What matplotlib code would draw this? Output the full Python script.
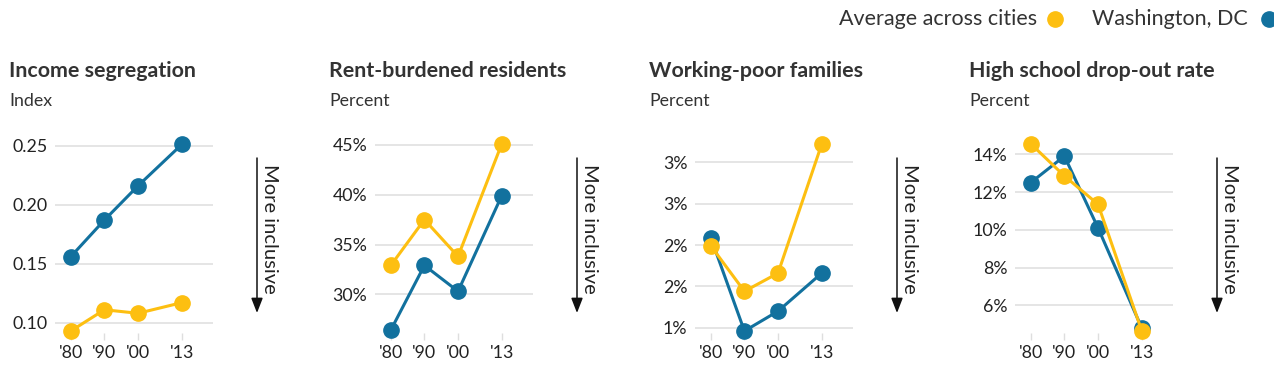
import matplotlib.pyplot as plt
from matplotlib.lines import Line2D

plt.rcParams['font.family'] = ['Lato', 'DejaVu Sans']

# Data
years = [1980, 1990, 2000, 2013]
year_labels = ["'80", "'90", "'00", "'13"]

titles = ["Income segregation", "Rent-burdened residents",
          "Working-poor families", "High school drop-out rate"]
units = ["Index", "Percent", "Percent", "Percent"]

seg_dc = [0.156, 0.187, 0.216, 0.251]
seg_avg = [0.093, 0.111, 0.108, 0.117]
rent_dc = [26.4, 32.9, 30.3, 39.9]
rent_avg = [32.9, 37.5, 33.8, 45.1]
poor_dc = [2.09, 0.96, 1.20, 1.66]
poor_avg = [1.99, 1.44, 1.66, 3.22]
drop_dc = [12.5, 13.9, 10.1, 4.8]
drop_avg = [14.55, 12.85, 11.35, 4.65]

seg_ticks = [0.10, 0.15, 0.20, 0.25]
seg_ticklabels = ["0.10", "0.15", "0.20", "0.25"]
rent_ticks = [30, 35, 40, 45]
rent_ticklabels = ["30%", "35%", "40%", "45%"]
poor_ticks = [1.0, 1.5, 2.0, 2.5, 3.0]
poor_ticklabels = ["1%", "2%", "2%", "3%", "3%"]
drop_ticks = [6, 8, 10, 12, 14]
drop_ticklabels = ["6%", "8%", "10%", "12%", "14%"]

panels = [
    (seg_dc, seg_avg, seg_ticks, seg_ticklabels, (0.0913, 0.2565)),
    (rent_dc, rent_avg, rent_ticks, rent_ticklabels, (26.11, 45.70)),
    (poor_dc, poor_avg, poor_ticks, poor_ticklabels, (0.936, 3.294)),
    (drop_dc, drop_avg, drop_ticks, drop_ticklabels, (4.534, 14.86)),
]

BLUE = '#12719e'
YELLOW = '#fdbf11'
GRID = '#dedede'
TEXT = '#222222'

W, H = 1274, 367
fig = plt.figure(figsize=(W / 100, H / 100), dpi=100)

for p, (dc, avg, ticks, ticklabels, ylim) in enumerate(panels):
    off = p * 320
    ax = fig.add_axes([(55 + off) / W, (H - 333) / H, 158 / W, 195 / H])
    ax.plot(years, dc, color=BLUE, lw=2.2, marker='o', ms=11, clip_on=False, zorder=3)
    ax.plot(years, avg, color=YELLOW, lw=2.2, marker='o', ms=11, clip_on=False, zorder=4)
    ax.set_xlim(1975.3, 2022.3)
    ax.set_ylim(*ylim)
    ax.set_yticks(ticks)
    ax.set_yticklabels(ticklabels)
    ax.set_xticks(years)
    ax.set_xticklabels(year_labels)
    ax.grid(axis='y', color=GRID, lw=1.1)
    ax.set_axisbelow(True)
    for s in ax.spines.values():
        s.set_visible(False)
    ax.tick_params(axis='y', length=0, pad=5.5, labelsize=12.8, labelcolor=TEXT)
    ax.tick_params(axis='x', length=5, width=1, color=GRID, pad=3.5, labelsize=12.8,
                   labelcolor=TEXT)

    fig.text((9 + off) / W, (H - 71) / H, titles[p], fontsize=15.4, fontweight='bold',
             color='#333333', va='center', ha='left')
    fig.text((9 + off) / W, (H - 101) / H, units[p], fontsize=12.8,
             color='#333333', va='center', ha='left')

# overlay in pixel coordinates for arrows and legend
ov = fig.add_axes([0, 0, 1, 1])
ov.set_xlim(0, W)
ov.set_ylim(H, 0)
ov.axis('off')

for p in range(4):
    x = 257 + p * 320
    ov.annotate('', xy=(x, 313), xytext=(x, 158),
                arrowprops=dict(arrowstyle='-|>,head_length=0.9,head_width=0.35',
                                color='#111111', lw=1.1, shrinkA=0, shrinkB=0))
    ov.text(x + 12, 229, 'More inclusive', rotation=-90, fontsize=14.5,
            color=TEXT, ha='center', va='center')

# legend
ov.text(1037, 19, 'Average across cities', fontsize=15.5, color='#333333',
        ha='right', va='center')
ov.add_line(Line2D([1055], [19], marker='o', ms=11, color=YELLOW, clip_on=False))
ov.text(1248, 19, 'Washington, DC', fontsize=15.5, color='#333333',
        ha='right', va='center')
ov.add_line(Line2D([1269], [19], marker='o', ms=11, color=BLUE, clip_on=False))

fig.savefig('out.png', dpi=100)
